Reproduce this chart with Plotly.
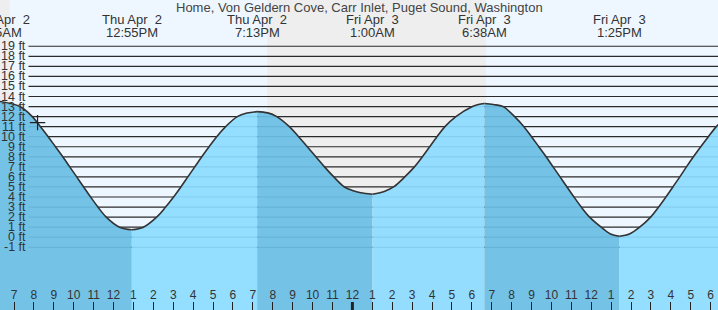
import plotly.graph_objects as go
import pandas as pd

# ---------------- data ----------------
title_text = "Home, Von Geldern Cove, Carr Inlet, Puget Sound, Washington"

tide_times = [
    "2026-04-02 06:17", "2026-04-02 07:18", "2026-04-02 07:55", "2026-04-02 08:20",
    "2026-04-02 08:43", "2026-04-02 09:05", "2026-04-02 09:27", "2026-04-02 09:48",
    "2026-04-02 10:09", "2026-04-02 10:30", "2026-04-02 10:51", "2026-04-02 11:13",
    "2026-04-02 11:38", "2026-04-02 12:18", "2026-04-02 12:55",
    "2026-04-02 13:30", "2026-04-02 14:10", "2026-04-02 14:37", "2026-04-02 15:01",
    "2026-04-02 15:23", "2026-04-02 15:44", "2026-04-02 16:05", "2026-04-02 16:26",
    "2026-04-02 16:48", "2026-04-02 17:11", "2026-04-02 17:38", "2026-04-02 18:13",
    "2026-04-02 18:42", "2026-04-02 19:13", "2026-04-02 19:45",
    "2026-04-02 20:12", "2026-04-02 20:50", "2026-04-02 21:18", "2026-04-02 21:44",
    "2026-04-02 22:10", "2026-04-02 22:36", "2026-04-02 23:04", "2026-04-02 23:36",
    "2026-04-03 00:00", "2026-04-03 00:25", "2026-04-03 01:00",
    "2026-04-03 01:38", "2026-04-03 02:04", "2026-04-03 02:38", "2026-04-03 03:07",
    "2026-04-03 03:31", "2026-04-03 03:53", "2026-04-03 04:15", "2026-04-03 04:39",
    "2026-04-03 05:12", "2026-04-03 06:02", "2026-04-03 06:20", "2026-04-03 06:38",
    "2026-04-03 07:05", "2026-04-03 07:34", "2026-04-03 08:09", "2026-04-03 08:37",
    "2026-04-03 09:00", "2026-04-03 09:22", "2026-04-03 09:44", "2026-04-03 10:05",
    "2026-04-03 10:26", "2026-04-03 10:47", "2026-04-03 11:08", "2026-04-03 11:30",
    "2026-04-03 11:55", "2026-04-03 12:30", "2026-04-03 12:58", "2026-04-03 13:25",
    "2026-04-03 13:55", "2026-04-03 14:26", "2026-04-03 14:59", "2026-04-03 15:23",
    "2026-04-03 15:45", "2026-04-03 16:06", "2026-04-03 16:27", "2026-04-03 16:47",
    "2026-04-03 17:08", "2026-04-03 17:30", "2026-04-03 17:53", "2026-04-03 18:17",
    "2026-04-03 18:30",
]
tide_heights = [
    13.5, 13.0, 12.0, 11.0,
    10.0, 9.0, 8.0, 7.0,
    6.0, 5.0, 4.0, 3.0,
    2.0, 1.0, 0.75,
    1.0, 2.0, 3.0, 4.0,
    5.0, 6.0, 7.0, 8.0,
    9.0, 10.0, 11.0, 12.0,
    12.35, 12.5, 12.37,
    12.0, 11.0, 10.0, 9.0,
    8.0, 7.0, 6.0, 5.0,
    4.65, 4.42, 4.28,
    4.58, 5.0, 6.0, 7.0,
    8.0, 9.0, 10.0, 11.0,
    12.0, 13.0, 13.2, 13.3,
    13.2, 13.0, 12.0, 11.0,
    10.0, 9.0, 8.0, 7.0,
    6.0, 5.0, 4.0, 3.0,
    2.0, 1.0, 0.33, 0.1,
    0.32, 1.0, 2.0, 3.0,
    4.0, 5.0, 6.0, 7.0,
    8.0, 9.0, 10.0, 11.0,
    11.45,
]

extreme_times = ["2026-04-02 06:17", "2026-04-02 12:55", "2026-04-02 19:13",
                 "2026-04-03 01:00", "2026-04-03 06:38", "2026-04-03 13:25"]
extreme_days = ["Thu Apr\u00a0 2", "Thu Apr\u00a0 2", "Thu Apr\u00a0 2",
                "Fri Apr\u00a0 3", "Fri Apr\u00a0 3", "Fri Apr\u00a0 3"]
extreme_clock = ["6:15AM", "12:55PM", "7:13PM", "1:00AM", "6:38AM", "1:25PM"]

night_start = ["2026-04-02 00:00", "2026-04-02 19:43"]
night_end = ["2026-04-02 06:47", "2026-04-03 06:43"]

midnight = "2026-04-03 00:00"
now_time = ["2026-04-02 08:11"]
now_height = [11.4]

y_ticks = list(range(-1, 20))
y_tick_text = [f"{v} ft" for v in y_ticks]

x_range = ["2026-04-02 06:17:48", "2026-04-03 18:22:05"]
y_range = [-7.24, 23.6]

# ---------------- style ----------------
W, H = 718, 310
FONT = "Liberation Sans, Arial, sans-serif"
TXT = "#333333"
DAY_BG = "#eef7ff"
NIGHT_BG = "#eeeeee"
EBB = "rgba(106,190,229,0.93)"
FLOOD = "rgba(141,219,255,0.93)"
LINE = "#333333"

fig = go.Figure()

t_all = pd.to_datetime(pd.Series(tide_times))
ext = pd.to_datetime(pd.Series(extreme_times))

# water fill segments between successive extremes (and to the end)
bounds = list(ext) + [t_all.iloc[-1]]
for i in range(len(bounds) - 1):
    a, b = bounds[i], bounds[i + 1]
    mask = (t_all >= a) & (t_all <= b)
    xs = [tide_times[k] for k in range(len(tide_times)) if mask.iloc[k]]
    ys = [tide_heights[k] for k in range(len(tide_heights)) if mask.iloc[k]]
    color = EBB if ys[-1] < ys[0] else FLOOD
    fig.add_trace(go.Scatter(x=[xs[0], xs[-1]], y=[y_range[0] - 2, y_range[0] - 2],
                             mode="lines", line=dict(width=0), hoverinfo="skip",
                             showlegend=False))
    fig.add_trace(go.Scatter(x=xs, y=ys, mode="lines", fill="tonexty", fillcolor=color,
                             line=dict(color=LINE, width=1.6, shape="spline", smoothing=1.0),
                             hoverinfo="skip", showlegend=False))

# current-time marker
fig.add_trace(go.Scatter(x=now_time, y=now_height, mode="markers",
                         marker=dict(symbol="cross-thin", size=11,
                                     line=dict(color="#222222", width=1.2)),
                         showlegend=False, hoverinfo="skip"))

shapes = []
for s, e in zip(night_start, night_end):
    shapes.append(dict(type="rect", xref="x", yref="paper", x0=s, x1=e, y0=0, y1=1,
                       fillcolor=NIGHT_BG, line=dict(width=0), layer="below"))
for v in y_ticks:
    shapes.append(dict(type="line", xref="paper", yref="y", x0=28.5 / W, x1=1, y0=v, y1=v,
                       line=dict(color="#2a2a2a", width=1.2), layer="between"))
shapes.append(dict(type="line", xref="x", yref="paper", x0=midnight, x1=midnight,
                   y0=0, y1=8 / H, line=dict(color="#222222", width=3), layer="above"))

annotations = []
for v, txt in zip(y_ticks, y_tick_text):
    annotations.append(dict(xref="paper", yref="y", x=27.5 / W, y=v, text=txt,
                            xanchor="right", yanchor="middle", showarrow=False,
                            font=dict(family=FONT, size=12.5, color=TXT)))

t0 = pd.Timestamp(x_range[0])
t1 = pd.Timestamp(x_range[1])
for t, d, c in zip(ext, extreme_days, extreme_clock):
    px = (t - t0) / (t1 - t0)
    annotations.append(dict(xref="paper", yref="paper", x=px, y=1 - 20 / H, text=d,
                            xanchor="center", yanchor="middle", showarrow=False,
                            font=dict(family=FONT, size=13, color=TXT)))
    annotations.append(dict(xref="paper", yref="paper", x=px, y=1 - 32 / H, text=c,
                            xanchor="center", yanchor="middle", showarrow=False,
                            font=dict(family=FONT, size=13, color=TXT)))
annotations.append(dict(xref="paper", yref="paper", x=0.5, y=1 - 7.5 / H, text=title_text,
                        xanchor="center", yanchor="middle", showarrow=False,
                        font=dict(family=FONT, size=13, color="#444444")))

fig.update_layout(
    width=W, height=H, margin=dict(l=0, r=0, t=0, b=0),
    paper_bgcolor=DAY_BG, plot_bgcolor=DAY_BG,
    shapes=shapes, annotations=annotations, showlegend=False,
    xaxis=dict(type="date", range=x_range, tickmode="linear",
               tick0="2026-04-02 00:00", dtick=3600000, tickformat="%-I",
               ticks="inside", ticklen=8, tickcolor="#222222", tickwidth=1,
               ticklabelposition="inside", showgrid=False, zeroline=False,
               showline=False, tickfont=dict(family=FONT, size=12, color=TXT)),
    yaxis=dict(range=y_range, visible=False, showgrid=False, zeroline=False),
)

fig.write_html("out.html")
